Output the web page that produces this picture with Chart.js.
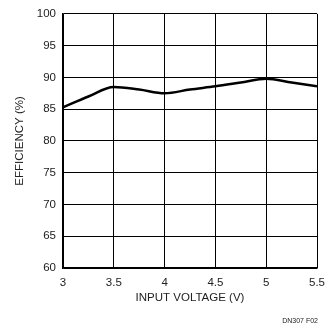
<!DOCTYPE html>
<html>
<head>
<meta charset="utf-8">
<script src="https://cdn.jsdelivr.net/npm/chart.js@4/dist/chart.umd.min.js"></script>
<style>
html,body{margin:0;padding:0;background:#fff;}
#wrap{width:333px;height:328px;position:relative;}
</style>
</head>
<body>
<div id="wrap"><canvas id="c" width="333" height="328"></canvas></div>
<script>
const voltage = [3, 3.25, 3.5, 3.75, 4, 4.25, 4.5, 4.75, 5, 5.25, 5.5];
const efficiency = [85.3, 87.0, 88.5, 88.1, 87.5, 88.1, 88.6, 89.2, 89.8, 89.2, 88.6];
const xTicks = [3, 3.5, 4, 4.5, 5, 5.5];
const yTicks = [60, 65, 70, 75, 80, 85, 90, 95, 100];
const xTitle = 'INPUT VOLTAGE (V)';
const yTitle = 'EFFICIENCY (%)';
const footnote = 'DN307 F02';

const FONT = '"Liberation Sans", Arial, sans-serif';

const footPlugin = {
  id: 'foot',
  afterDraw(chart) {
    const ctx = chart.ctx;
    ctx.save();
    ctx.font = '7px ' + FONT;
    ctx.fillStyle = '#222';
    ctx.textAlign = 'right';
    ctx.textBaseline = 'middle';
    ctx.fillText(footnote, 318, 321);
    ctx.restore();
  }
};

new Chart(document.getElementById('c'), {
  type: 'line',
  data: {
    datasets: [{
      data: voltage.map((v, i) => ({x: v, y: efficiency[i]})),
      borderColor: '#000',
      borderWidth: 2.5,
      pointRadius: 0,
      cubicInterpolationMode: 'monotone',
      fill: false
    }]
  },
  options: {
    responsive: false,
    animation: false,
    devicePixelRatio: 1,
    layout: {padding: {top: 13, right: 14, bottom: 23, left: 0}},
    plugins: {legend: {display: false}, tooltip: {enabled: false}},
    scales: {
      x: {
        type: 'linear',
        min: 3, max: 5.5,
        afterBuildTicks: s => { s.ticks = xTicks.map(v => ({value: v})); },
        afterFit: s => { s.height = 37; },
        grid: {color: '#000', lineWidth: 1, drawTicks: false},
        border: {color: '#000', width: 1.5},
        ticks: {
          color: '#222', padding: 8,
          font: {family: FONT, size: 11.5},
          callback: v => String(v)
        },
        title: {display: true, text: xTitle, color: '#222', font: {family: FONT, size: 11.5}, padding: {top: 0, bottom: 0}}
      },
      y: {
        min: 60, max: 100,
        afterBuildTicks: s => { s.ticks = yTicks.map(v => ({value: v})); },
        afterFit: s => { s.width = 63; },
        grid: {color: '#000', lineWidth: 1, drawTicks: false},
        border: {color: '#000', width: 1.5},
        ticks: {
          color: '#222', padding: 7,
          font: {family: FONT, size: 11.5}
        },
        title: {display: true, text: yTitle, color: '#222', font: {family: FONT, size: 11.5}, padding: {top: 13, bottom: 0}}
      }
    }
  },
  plugins: [footPlugin]
});
</script>
</body>
</html>
